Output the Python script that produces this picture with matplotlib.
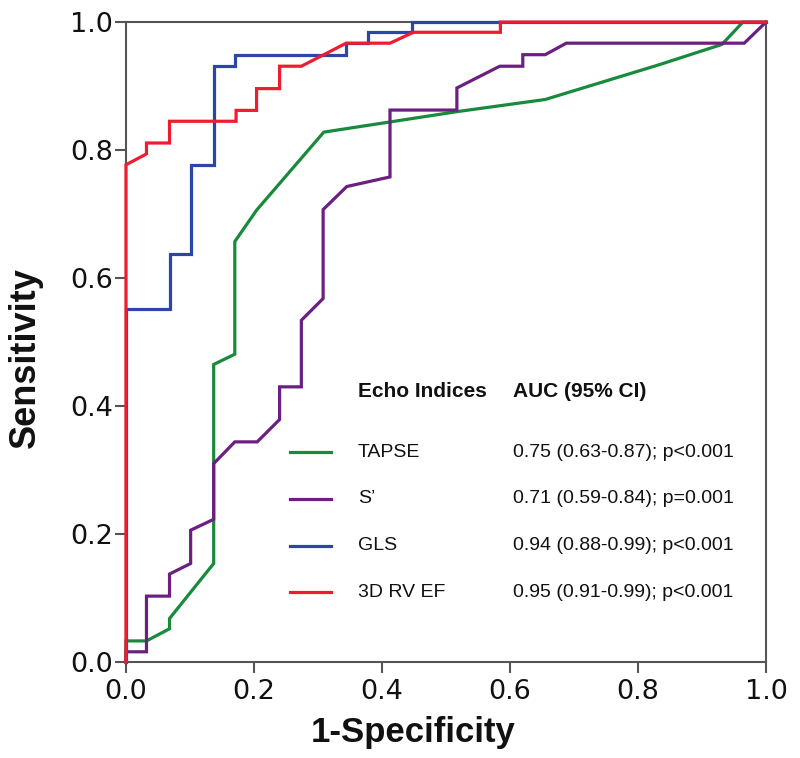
import matplotlib
matplotlib.use("Agg")
import matplotlib.pyplot as plt

# ROC curves (1-specificity, sensitivity)
tapse_x = [0.0, 0.0, 0.032, 0.068, 0.068, 0.137, 0.137, 0.170, 0.170, 0.204, 0.309,
           0.517, 0.655, 0.832, 0.931, 0.964, 1.0]
tapse_y = [0.0, 0.033, 0.033, 0.052, 0.068, 0.154, 0.465, 0.481, 0.657, 0.706, 0.828,
           0.860, 0.879, 0.933, 0.965, 1.0, 1.0]

s_x = [0.0, 0.0, 0.032, 0.032, 0.068, 0.068, 0.101, 0.101, 0.137, 0.137, 0.170, 0.205,
       0.240, 0.240, 0.274, 0.274, 0.308, 0.308, 0.345, 0.4125, 0.4125, 0.517, 0.517,
       0.584, 0.620, 0.620, 0.655, 0.688, 0.966, 1.0]
s_y = [0.0, 0.016, 0.016, 0.103, 0.103, 0.1375, 0.154, 0.206, 0.223, 0.310, 0.344, 0.344,
       0.379, 0.430, 0.430, 0.534, 0.568, 0.707, 0.743, 0.758, 0.8625, 0.8625, 0.897,
       0.931, 0.931, 0.949, 0.949, 0.967, 0.967, 1.0]

gls_x = [0.0, 0.0, 0.068, 0.068, 0.101, 0.101, 0.137, 0.137, 0.170, 0.170, 0.344, 0.344,
         0.378, 0.378, 0.447, 0.447, 1.0]
gls_y = [0.0, 0.552, 0.552, 0.638, 0.638, 0.777, 0.777, 0.931, 0.931, 0.949, 0.949, 0.967,
         0.967, 0.984, 0.984, 1.0, 1.0]

ef_x = [0.0, 0.0, 0.032, 0.032, 0.068, 0.068, 0.172, 0.172, 0.204, 0.204, 0.240, 0.240,
        0.274, 0.344, 0.4125, 0.449, 0.585, 0.585, 1.0]
ef_y = [0.0, 0.777, 0.794, 0.811, 0.811, 0.845, 0.845, 0.862, 0.862, 0.896, 0.896, 0.931,
        0.931, 0.967, 0.967, 0.984, 0.984, 1.0, 1.0]

names = ["TAPSE", "S\u2019", "GLS", "3D RV EF"]
auc_text = ["0.75 (0.63-0.87); p<0.001",
            "0.71 (0.59-0.84); p=0.001",
            "0.94 (0.88-0.99); p<0.001",
            "0.95 (0.91-0.99); p<0.001"]
colors = ["#178a3c", "#6b1f80", "#2c45a8", "#ee1c2e"]
curves = [(tapse_x, tapse_y), (s_x, s_y), (gls_x, gls_y), (ef_x, ef_y)]

fig = plt.figure(figsize=(8, 7.58), dpi=100)
ax = fig.add_axes([0.1575, 0.1266, 0.8, 0.8443])

for (xs, ys), c in zip(curves, colors):
    ax.plot(xs, ys, color=c, lw=2.3, solid_joinstyle="miter", clip_on=False, zorder=3)

ax.set_xlim(0, 1)
ax.set_ylim(0, 1)
ax.set_xticks([0, 0.2, 0.4, 0.6, 0.8, 1.0])
ax.set_yticks([0, 0.2, 0.4, 0.6, 0.8, 1.0])
ax.set_xticklabels(["0.0", "0.2", "0.4", "0.6", "0.8", "1.0"])
ax.set_yticklabels(["0.0", "0.2", "0.4", "0.6", "0.8", "1.0"])
ax.tick_params(direction="out", length=8, width=1.5, color="#555555",
               labelsize=19.5, labelcolor="#111111")
ax.tick_params(axis="y", pad=1.5)
ax.tick_params(axis="x", pad=4)
for s in ax.spines.values():
    s.set_color("#555555")
    s.set_linewidth(1.5)

lab_font = dict(family="Liberation Sans", weight="bold", color="#111111")
ax.set_xlabel("1-Specificity", fontsize=25, **lab_font)
ax.xaxis.set_label_coords(0.448, -0.085)
ax.set_ylabel("Sensitivity", fontsize=26, **lab_font)
ax.yaxis.set_label_coords(-0.13, 0.476)

# legend block inside the axes
txt_font = dict(family="Liberation Sans", fontsize=14, color="#111111", va="center",
                transform=ax.transAxes)
head_font = dict(txt_font, fontsize=15, weight="bold")
ax.text(0.3625, 0.422, "Echo Indices", **head_font)
ax.text(0.605, 0.422, "AUC (95% CI)", **head_font)
row_y0 = 0.328
row_dy = 0.073
for i, (nm, au, c) in enumerate(zip(names, auc_text, colors)):
    yy = row_y0 - i * row_dy
    ax.plot([0.256, 0.320], [yy, yy], color=c, lw=2.3, transform=ax.transAxes)
    ax.text(0.3625, yy, nm, **txt_font)
    ax.text(0.605, yy, au, **txt_font)

fig.savefig("out.png", dpi=100)
